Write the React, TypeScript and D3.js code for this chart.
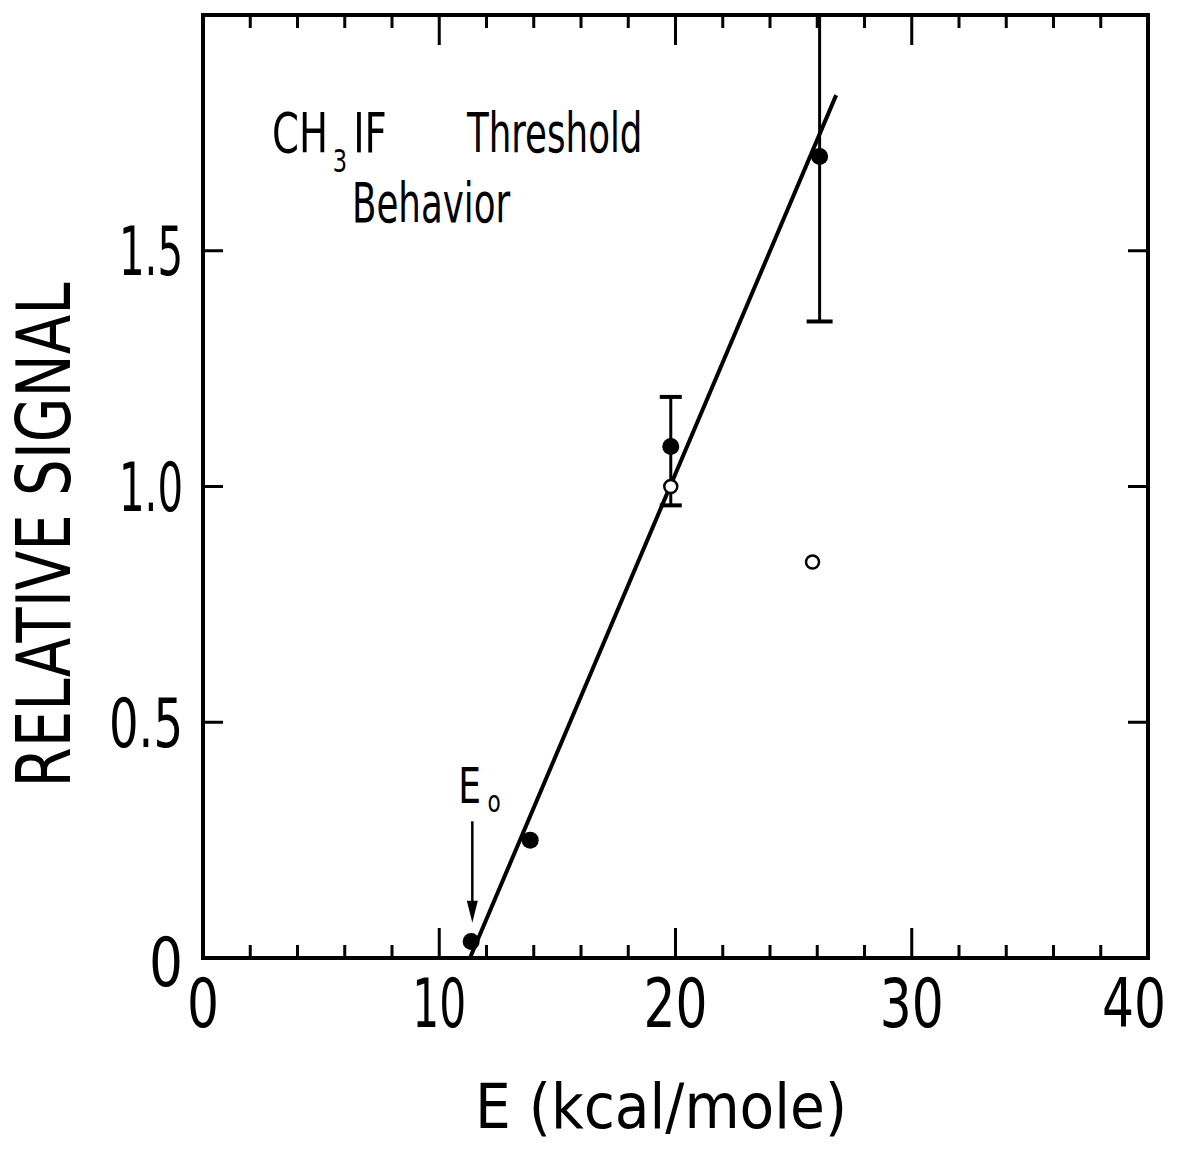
// CH3IF threshold behaviour: relative signal vs. collision energy, with a linear fit down to E0

import React, { useEffect, useRef } from "react"
import * as d3 from "d3"

// measured points (filled circles)
const filledE = [11.35, 13.85, 19.8, 26.1]
const filledS = [0.035, 0.25, 1.085, 1.7]

// second set (open circles)
const openE = [19.8, 25.8]
const openS = [1.0, 0.84]

// error bars: energy, low, high
const errE = [19.8, 26.1]
const errLo = [0.96, 1.35]
const errHi = [1.19, 2.06]

// straight line fit, from threshold E0 up
const fitE = [11.3, 26.8]
const fitS = [0, 1.83]

// E0 arrow: energy, start signal, tip signal
const arrowE = 11.4
const arrowFrom = 0.29
const arrowTo = 0.075

const xTicks = [0, 10, 20, 30, 40]
const xMinor = d3.range(2, 40, 2)
const yTicks = [0.5, 1.0, 1.5]
const yLabels = ["0", "0.5", "1.0", "1.5"]

const FONT = "'Liberation Sans Narrow', 'DejaVu Sans Condensed', 'Roboto', sans-serif"

// rough width of a label in the lettering-guide font
const labelWidth = (s: string) => s.split("").reduce((w, c) => w + (c === "." ? 10 : c === "1" ? 22 : 32), 0)

export default function App() {
  const ref = useRef<SVGSVGElement>(null)

  useEffect(() => {
    const width = 1190
    const height = 1149
    const left = 203, right = 1148, top = 15, bottom = 958

    const x = d3.scaleLinear().domain([0, 40]).range([left, right])
    const y = d3.scaleLinear().domain([0, 2]).range([bottom, top])

    const svg = d3.select(ref.current)
    svg.selectAll("*").remove()
    svg.attr("width", width).attr("height", height)

    svg.append("rect").attr("width", width).attr("height", height).attr("fill", "#fff")

    const g = svg.append("g")

    // frame
    g.append("rect")
      .attr("x", left).attr("y", top)
      .attr("width", right - left).attr("height", bottom - top)
      .attr("fill", "none").attr("stroke", "#000").attr("stroke-width", 4)

    // x ticks, bottom and top, pointing in
    xMinor.forEach(v => {
      const len = v % 10 === 0 ? 30 : 13
      g.append("line").attr("x1", x(v)).attr("x2", x(v))
        .attr("y1", bottom).attr("y2", bottom - len)
        .attr("stroke", "#000").attr("stroke-width", 3)
      g.append("line").attr("x1", x(v)).attr("x2", x(v))
        .attr("y1", top).attr("y2", top + len)
        .attr("stroke", "#000").attr("stroke-width", 3)
    })

    // y ticks, both sides
    yTicks.forEach(v => {
      g.append("line").attr("x1", left).attr("x2", left + 20)
        .attr("y1", y(v)).attr("y2", y(v))
        .attr("stroke", "#000").attr("stroke-width", 3)
      g.append("line").attr("x1", right).attr("x2", right - 20)
        .attr("y1", y(v)).attr("y2", y(v))
        .attr("stroke", "#000").attr("stroke-width", 3)
    })

    // tick labels
    g.selectAll(".xl").data(xTicks).enter().append("text")
      .attr("x", d => x(d) + (d === 40 ? -14 : 0)).attr("y", 1027)
      .attr("text-anchor", "middle")
      .attr("textLength", d => labelWidth(String(d))).attr("lengthAdjust", "spacingAndGlyphs")
      .style("font-family", FONT).style("font-size", "68px")
      .text(d => String(d))

    g.selectAll(".yl").data(yLabels).enter().append("text")
      .attr("x", 183).attr("y", d => y(+d) + (d === "0" ? 4 : 0))
      .attr("dy", "0.36em")
      .attr("text-anchor", "end")
      .attr("textLength", d => labelWidth(d) + (d === "0" ? 2 : 0)).attr("lengthAdjust", "spacingAndGlyphs")
      .style("font-family", FONT).style("font-size", "68px")
      .text(d => d)

    // axis titles
    g.append("text")
      .attr("x", 475).attr("y", 1128)
      .attr("textLength", 372).attr("lengthAdjust", "spacingAndGlyphs")
      .style("font-family", FONT).style("font-size", "62px")
      .text("E (kcal/mole)")

    g.append("text")
      .attr("transform", "translate(70,535) rotate(-90)")
      .attr("text-anchor", "middle")
      .attr("textLength", 505).attr("lengthAdjust", "spacingAndGlyphs")
      .style("font-family", FONT).style("font-size", "74px")
      .text("RELATIVE SIGNAL")

    // annotation: CH3IF Threshold Behavior, narrow lettering
    const ann = g.append("g").style("font-family", FONT).style("font-size", "55px")
    const t1 = ann.append("text").attr("transform", "translate(272,152) scale(0.78,1)")
    t1.append("tspan").text("CH")
    t1.append("tspan").attr("dx", 6).attr("dy", 20).style("font-size", "32px").text("3")
    t1.append("tspan").attr("dx", 8).attr("dy", -20).text("IF")
    ann.append("text").attr("transform", "translate(467,152) scale(0.72,1)").text("Threshold")
    ann.append("text").attr("transform", "translate(352,222) scale(0.72,1)").text("Behavior")

    // fit line
    const line = d3.line<number>().x(i => x(fitE[i])).y(i => y(fitS[i]))
    g.append("path")
      .attr("d", line(d3.range(fitE.length)))
      .attr("fill", "none").attr("stroke", "#000").attr("stroke-width", 4)

    // error bars
    errE.forEach((e, i) => {
      const hi = Math.min(errHi[i], 2)
      g.append("line").attr("x1", x(e)).attr("x2", x(e))
        .attr("y1", y(errLo[i])).attr("y2", y(hi))
        .attr("stroke", "#000").attr("stroke-width", 3)
      const cw = i === 0 ? 11 : 13
      g.append("line").attr("x1", x(e) - cw).attr("x2", x(e) + cw)
        .attr("y1", y(errLo[i])).attr("y2", y(errLo[i]))
        .attr("stroke", "#000").attr("stroke-width", 4)
      if (errHi[i] <= 2) {
        g.append("line").attr("x1", x(e) - cw).attr("x2", x(e) + cw)
          .attr("y1", y(errHi[i])).attr("y2", y(errHi[i]))
          .attr("stroke", "#000").attr("stroke-width", 4)
      }
    })

    // filled points
    g.selectAll(".fp").data(d3.range(filledE.length)).enter().append("circle")
      .attr("cx", i => x(filledE[i])).attr("cy", i => y(filledS[i]))
      .attr("r", 8.5).attr("fill", "#000")

    // open points
    g.selectAll(".op").data(d3.range(openE.length)).enter().append("circle")
      .attr("cx", i => x(openE[i])).attr("cy", i => y(openS[i]))
      .attr("r", 6.5).attr("fill", "#fff").attr("stroke", "#000").attr("stroke-width", 2.5)

    // E0 arrow
    const ax = x(arrowE)
    const tip = y(arrowTo)
    g.append("line").attr("x1", ax).attr("x2", ax)
      .attr("y1", y(arrowFrom)).attr("y2", tip - 18)
      .attr("stroke", "#000").attr("stroke-width", 2.5)
    g.append("path")
      .attr("d", `M${ax - 5.5},${tip - 22} L${ax + 5.5},${tip - 22} L${ax},${tip} Z`)
      .attr("fill", "#000")

    const e0 = g.append("text").attr("transform", `translate(${ax - 14},803) scale(0.8,1)`)
      .style("font-family", FONT).style("font-size", "50px")
    e0.append("tspan").text("E")
    e0.append("tspan").attr("dx", 8).attr("dy", 9).style("font-size", "30px").text("o")
  }, [])

  return (
    <svg
      ref={ref}
      style={{ position: "absolute", left: 0, top: 0, display: "block" }}
    ></svg>
  )
}
